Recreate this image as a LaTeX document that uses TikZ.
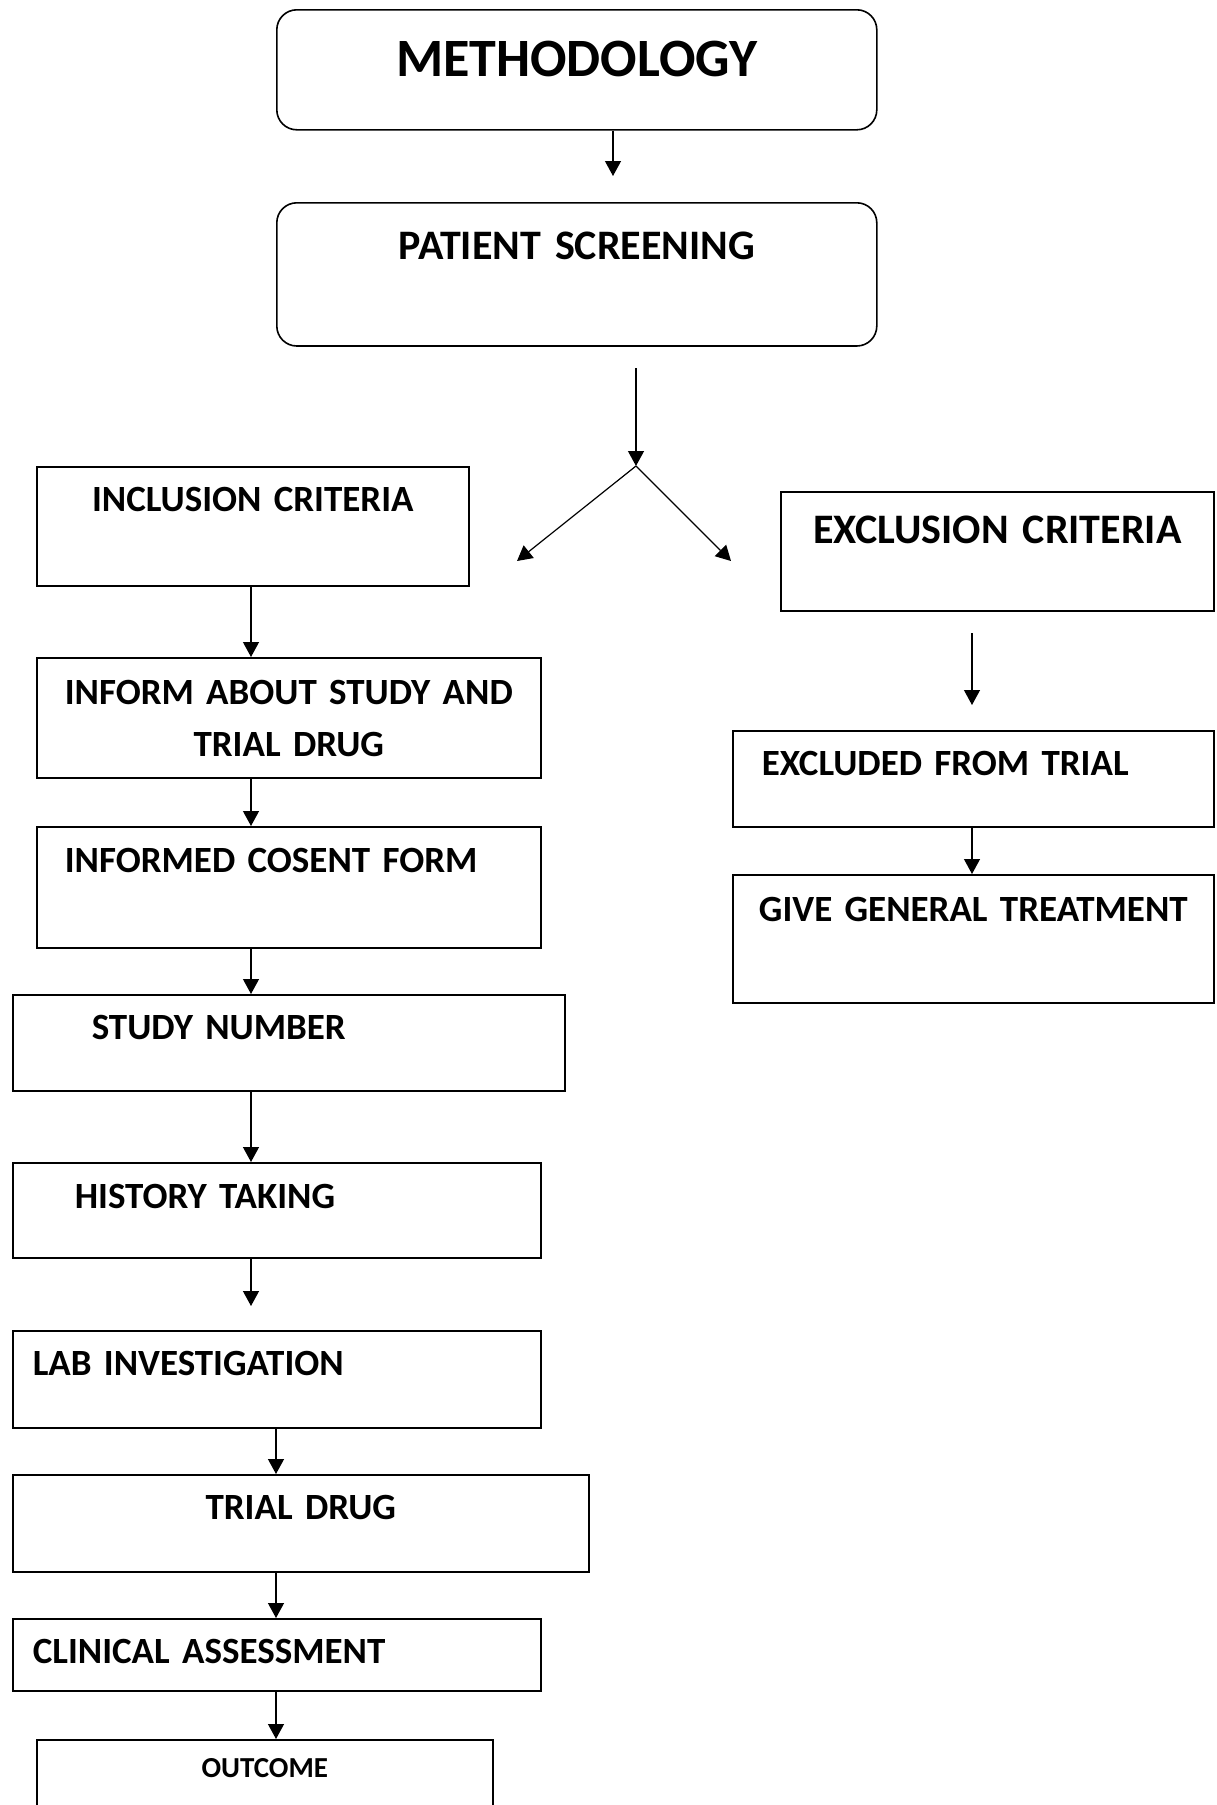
\documentclass[tikz,border=0pt]{standalone}
\usepackage{fontspec}
\setmainfont{Carlito}[WordSpace=0.8]
\usetikzlibrary{arrows.meta}

\tikzset{
  box/.style={draw, line width=0.8pt, inner ysep=0pt, inner xsep=0pt, anchor=north west,
    font=\bfseries\fontsize{18.5}{26}\selectfont},
  rbox/.style={box, rounded corners=10pt},
  link/.style={line width=0.6pt, -{Triangle[length=7.5pt,width=8pt]}},
}

\begin{document}
\begin{tikzpicture}[x=0.5pt, y=-0.5pt]

\clip (0,0) rectangle (1216,1805);

% top of the chart
\node[rbox, text width=300pt, align=center, text height=33.2pt, text depth=26.8pt,
      font=\bfseries\fontsize{27}{30}\selectfont] (meth) at (276,9) {METHODOLOGY};
\node[rbox, text width=300pt, align=center, text height=28.3pt, text depth=43.3pt,
      font=\bfseries\fontsize{21}{25}\selectfont] (scr) at (276,202) {PATIENT SCREENING};

% the two branches
\node[box, text width=216pt, align=center, text height=22.5pt, text depth=37pt] (incl) at (36,466) {INCLUSION CRITERIA};
\node[box, text width=216.5pt, align=center, text height=25.8pt, text depth=33.8pt,
      font=\bfseries\fontsize{21}{25}\selectfont] (excl) at (780,491) {EXCLUSION CRITERIA};

% exclusion side
\node[box, text width=211.5pt, inner xsep=14.5pt, align=left, text height=22.5pt, text depth=25.5pt] (exd) at (732,730) {EXCLUDED FROM TRIAL};
\node[box, text width=240.5pt, align=center, text height=23.5pt, text depth=40.5pt] (gen) at (732,874) {GIVE GENERAL TREATMENT};

% inclusion side
\node[box, text width=252pt, align=center, text height=23.5pt, text depth=36.5pt] (inf) at (36,657) {INFORM ABOUT STUDY AND\\TRIAL DRUG};
\node[box, text width=224pt, inner xsep=14pt, align=left, text height=23pt, text depth=37.5pt] (cons) at (36,826) {INFORMED COSENT FORM};
\node[box, text width=197pt, inner xsep=39.5pt, align=left, text height=22.5pt, text depth=25.5pt] (num) at (12,994) {STUDY NUMBER};
\node[box, text width=202pt, inner xsep=31pt, align=left, text height=23pt, text depth=24.5pt] (hist) at (12,1162) {HISTORY TAKING};
\node[box, text width=244pt, inner xsep=10pt, align=left, text height=22.5pt, text depth=26pt] (lab) at (12,1330) {LAB INVESTIGATION};
\node[box, text width=288pt, align=center, text height=22.5pt, text depth=26pt] (drug) at (12,1474) {TRIAL DRUG};
\node[box, text width=244pt, inner xsep=10pt, align=left, text height=22.5pt, text depth=13.5pt] (clin) at (12,1618) {CLINICAL ASSESSMENT};
\node[box, text width=228pt, align=center, text height=19pt, text depth=30pt,
      font=\bfseries\fontsize{14.5}{17}\selectfont] (out) at (36,1739) {OUTCOME};

% free ends of the arrows
\coordinate (m-end) at (613,176);
\coordinate (s-top) at (636,368);
\coordinate (split) at (636,466);
\coordinate (s-left) at (517,561);
\coordinate (s-right) at (731,561);
\coordinate (e-top) at (972,633);
\coordinate (e-end) at (972,705);
\coordinate (h-end) at (251,1306);
\coordinate (low) at (276,0);

% arrows
\draw[link] (meth.south -| m-end) -- (m-end);
\draw[link] (s-top) -- (split);
\draw[link] (split) -- (s-left);
\draw[link] (split) -- (s-right);
\draw[link] (e-top) -- (e-end);
\draw[link] (exd.south -| e-end) -- (gen.north -| e-end);
\draw[link] (incl.south -| h-end) -- (inf.north -| h-end);
\draw[link] (inf.south -| h-end) -- (cons.north -| h-end);
\draw[link] (cons.south -| h-end) -- (num.north -| h-end);
\draw[link] (num.south -| h-end) -- (hist.north -| h-end);
\draw[link] (hist.south -| h-end) -- (h-end);
\draw[link] (lab.south -| low) -- (drug.north -| low);
\draw[link] (drug.south -| low) -- (clin.north -| low);
\draw[link] (clin.south -| low) -- (out.north -| low);

\end{tikzpicture}
\end{document}
